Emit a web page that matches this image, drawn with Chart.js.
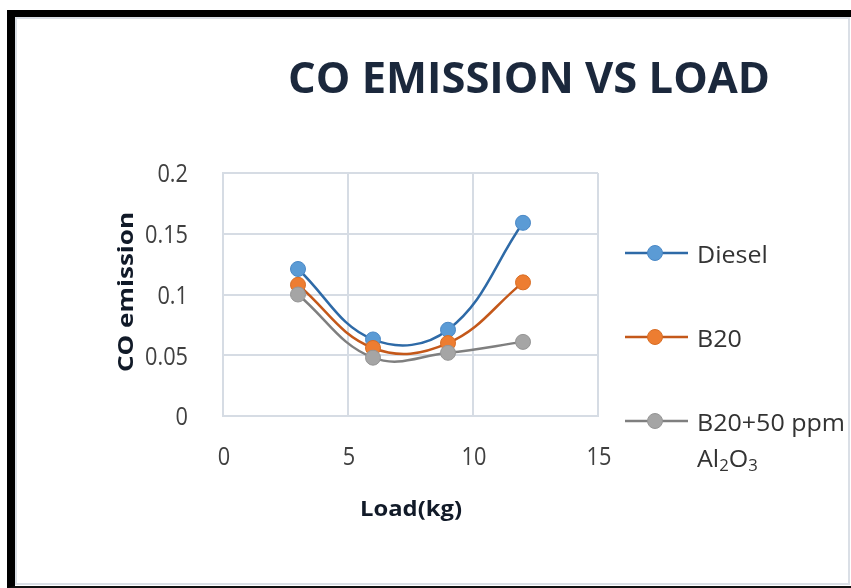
<!DOCTYPE html>
<html>
<head>
<meta charset="utf-8">
<script src="https://cdn.jsdelivr.net/npm/chart.js@4/dist/chart.umd.min.js"></script>
<style>
  body { margin: 0; background: #fff; }
  .outer { position: absolute; left: 7px; top: 10px; width: 860px; height: 578px;
           border-top: 7px solid #000; border-left: 8px solid #000; border-bottom: 2px solid #111; box-sizing: border-box; }
  .inner { position: absolute; left: 15px; top: 17px; width: 835px; height: 568px;
           border: 2px solid #dadfe6; box-sizing: border-box; background: #fff; }
  #coChart { position: absolute; left: 0; top: 0; }
</style>
</head>
<body>
<div class="outer"></div>
<div class="inner"></div>
<canvas id="coChart" width="851" height="588"></canvas>
<script>
const loads = [3, 6, 9, 12];
const diesel = [0.121, 0.063, 0.071, 0.159];
const b20 = [0.108, 0.056, 0.060, 0.110];
const b20Al = [0.100, 0.048, 0.052, 0.061];
const xTicks = [0, 5, 10, 15];
const yTicks = [0, 0.05, 0.1, 0.15, 0.2];
const yTickLabels = ['0', '0.05', '0.1', '0.15', '0.2'];

const series = [
    {label: 'Diesel', data: diesel, line: '#2e6aa7', fill: '#5b9bd5', edge: '#4a88c6'},
    {label: 'B20', data: b20, line: '#c4581a', fill: '#ed7d31', edge: '#d86d24'},
    {label: 'B20+50 ppm', data: b20Al, line: '#7f7f7f', fill: '#a5a5a5', edge: '#959595'},
]

// squeeze text horizontally to a given width
const fitText = (ctx, text, x, y, s, align) => {
    ctx.save()
    ctx.translate(x, y)
    ctx.scale(s, 1)
    ctx.textAlign = align
    ctx.fillText(text, 0, 0)
    ctx.restore()
}

const textPlugin = {
    id: 'texts',
    afterDraw(chart) {
        const ctx = chart.ctx
        const xs = chart.scales.x
        const ys = chart.scales.y
        ctx.save()
        ctx.textBaseline = 'alphabetic'

        // title
        ctx.fillStyle = '#1b283c'
        ctx.font = 'bold 43px "Open Sans"'
        fitText(ctx, 'CO EMISSION VS LOAD', 529, 93, 482 / ctx.measureText('CO EMISSION VS LOAD').width, 'center')

        // tick labels
        ctx.fillStyle = '#404040'
        ctx.font = '26px "Open Sans"'
        const s = 43 / ctx.measureText('0.15').width
        ctx.textBaseline = 'middle'
        yTicks.forEach((v, i) => {
            fitText(ctx, yTickLabels[i], 188, ys.getPixelForValue(v) + 2, s, 'right')
        })
        xTicks.forEach(v => {
            fitText(ctx, String(v), xs.getPixelForValue(v) + 1, 458, s, 'center')
        })

        // axis titles
        ctx.fillStyle = '#111a28'
        ctx.font = 'bold 21px "Open Sans"'
        ctx.textBaseline = 'alphabetic'
        fitText(ctx, 'Load(kg)', 411, 516, 102 / ctx.measureText('Load(kg)').width, 'center')
        ctx.save()
        ctx.translate(133, 292)
        ctx.rotate(-Math.PI / 2)
        fitText(ctx, 'CO emission', 0, 0, 160 / ctx.measureText('CO emission').width, 'center')
        ctx.restore()

        // legend
        const rows = [253, 337, 421]
        ctx.font = '24px "Open Sans"'
        const ls = 148 / ctx.measureText('B20+50 ppm').width
        series.forEach((d, i) => {
            const y = rows[i]
            ctx.strokeStyle = d.line
            ctx.lineWidth = 2.5
            ctx.beginPath()
            ctx.moveTo(625, y)
            ctx.lineTo(688, y)
            ctx.stroke()
            ctx.fillStyle = d.fill
            ctx.strokeStyle = d.edge
            ctx.lineWidth = 1
            ctx.beginPath()
            ctx.arc(655, y, 7.5, 0, Math.PI * 2)
            ctx.fill()
            ctx.stroke()
            ctx.fillStyle = '#333333'
            fitText(ctx, d.label, 697, y + 10, ls, 'left')
        })
        // Al2O3 second line
        let x = 697
        const parts = [['Al', 24, 0], ['2', 16, 4], ['O', 24, 0], ['3', 16, 4]]
        for (const [t, size, dy] of parts) {
            ctx.font = size + 'px "Open Sans"'
            fitText(ctx, t, x, 467 + dy, ls, 'left')
            x += ctx.measureText(t).width * ls
        }
        ctx.restore()
    }
}

const gridColor = '#d6dce4'

new Chart(document.getElementById('coChart'), {
    type: 'scatter',
    data: {
        datasets: series.map((d, i) => ({
            label: d.label,
            data: loads.map((l, j) => ({x: l, y: d.data[j]})),
            showLine: true,
            tension: 0.4,
            borderColor: d.line,
            borderWidth: 2.5,
            pointRadius: 7.5,
            pointBackgroundColor: d.fill,
            pointBorderColor: d.edge,
            pointBorderWidth: 1,
            order: 2 - i,
        }))
    },
    options: {
        responsive: false,
        animation: false,
        devicePixelRatio: 1,
        layout: {padding: {left: 223, right: 253, top: 173, bottom: 172}},
        plugins: {legend: {display: false}, tooltip: {enabled: false}},
        scales: {
            x: {
                type: 'linear', min: 0, max: 15,
                afterBuildTicks: scale => { scale.ticks = xTicks.map(v => ({value: v})) },
                afterFit: scale => { scale.height = 0 },
                ticks: {display: false},
                grid: {color: gridColor, lineWidth: 2, drawTicks: false},
                border: {color: gridColor, width: 2},
            },
            y: {
                min: 0, max: 0.2,
                afterBuildTicks: scale => { scale.ticks = yTicks.map(v => ({value: v})) },
                afterFit: scale => { scale.width = 0 },
                ticks: {display: false},
                grid: {color: gridColor, lineWidth: 2, drawTicks: false},
                border: {color: gridColor, width: 2},
            }
        }
    },
    plugins: [textPlugin]
});
</script>
</body>
</html>
